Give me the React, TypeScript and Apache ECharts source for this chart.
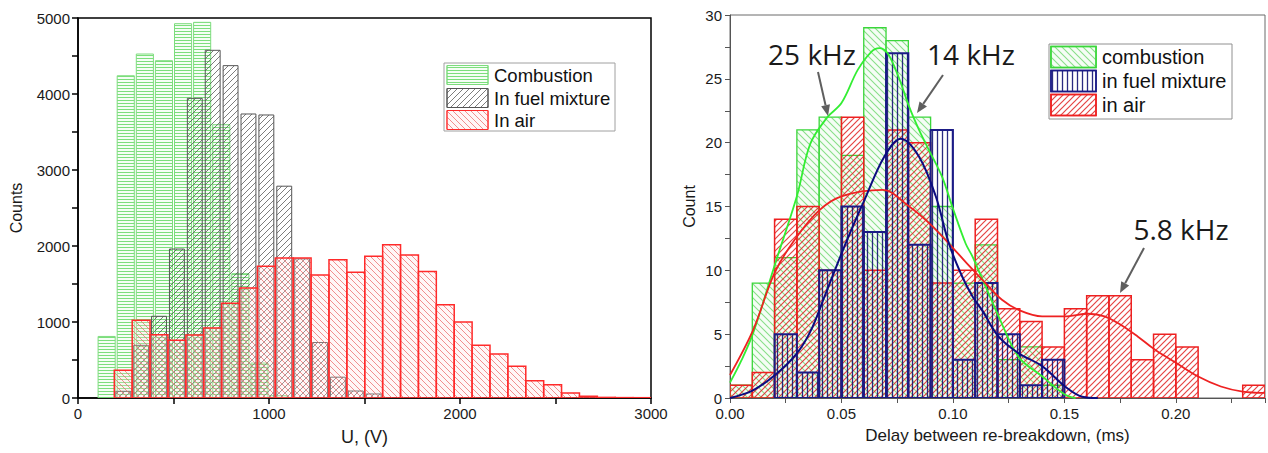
import React, { useEffect, useRef } from 'react';
import * as echarts from 'echarts';

// ---------- Left panel: U, (V) histogram ----------
const combustionStart = 100;
const combustionWidth = 100;
const combustionCounts = [810, 4240, 4526, 4438, 4925, 4943, 3596, 1636, 460, 30];

const fuelAirStart = 190;
const fuelAirWidth = 93.67;
const fuelCounts = [88, 693, 1075, 1960, 3943, 4575, 4373, 3737, 3724, 2787, 1830, 730, 274, 92, 53];
const airCounts = [364, 1022, 833, 759, 829, 921, 1246, 1447, 1732, 1842, 1842, 1618, 1820, 1654, 1864, 2017,
  1882, 1664, 1228, 1000, 693, 579, 417, 228, 175, 66, 22, 8, 5, 4];

const leftXTicks = { min: 0, max: 3000, interval: 500, labelEvery: 1000 };
const leftYTicks = { min: 0, max: 5000, interval: 500, labelEvery: 1000 };

// ---------- Right panel: delay histogram ----------
const delayStart = 0;
const delayWidth = 0.01;
const combustionDelay = [1, 9, 11, 21, 22, 19, 29, 28, 22, 15, 9, 12, 3, 4, 1];
const fuelDelay = [0, 0, 5, 2, 10, 15, 13, 27, 12, 21, 3, 9, 5, 1, 3];
const airDelay = [1, 2, 14, 15, 10, 22, 10, 21, 20, 9, 10, 14, 7, 6, 4, 7, 8, 8, 3, 5, 4, 0, 0, 1];

const combustionFit = [
  [0, 1.2], [0.005, 2.9], [0.0104, 5.1], [0.0204, 10.6], [0.03, 15.8], [0.036, 19.9], [0.0437, 22],
  [0.05, 23.1], [0.0573, 25.7], [0.0633, 27.1], [0.067, 27.4], [0.0707, 27], [0.0755, 25.2],
  [0.0804, 22.8], [0.0848, 21], [0.0893, 19.4], [0.0952, 17.3], [0.0997, 15], [0.1057, 12.1],
  [0.109, 11], [0.1205, 6.4], [0.1295, 3.2], [0.14, 1.7], [0.15, 0.3], [0.155, 0],
];
const fuelFit = [
  [0, 0], [0.0103, 0.6], [0.0202, 1.8], [0.03, 3.5], [0.0363, 5.3], [0.0423, 7.9], [0.05, 11.3],
  [0.055, 13.4], [0.0603, 15.5], [0.0692, 18.9], [0.0766, 20.3], [0.0848, 18.9], [0.0923, 15.8],
  [0.0982, 12.1], [0.1042, 9.5], [0.109, 7.9], [0.113, 6.9], [0.1205, 4.8], [0.1295, 3.5],
  [0.14, 2.5], [0.1503, 0.9], [0.158, 0.1], [0.165, 0],
];
const airFit = [
  [0, 1.8], [0.0103, 5.3], [0.02, 9.8], [0.029, 12.4], [0.04, 14.7], [0.05, 15.8], [0.0685, 16.3],
  [0.0804, 15], [0.0893, 13.7], [0.0982, 12.1], [0.107, 10.4], [0.1146, 9], [0.122, 7.7],
  [0.1295, 6.9], [0.14, 6.4], [0.15, 6.4], [0.1607, 6.6], [0.168, 6.4], [0.1756, 5.7], [0.183, 4.8],
  [0.1905, 3.8], [0.1997, 2.8], [0.2098, 1.7], [0.2202, 0.9], [0.23, 0.5], [0.24, 0.4],
];

const rightXTicks = { min: 0, max: 0.24, interval: 0.025, labelEvery: 0.05 };
const rightYTicks = { min: 0, max: 30, interval: 2.5, labelEvery: 5 };

const leftLegend = ['Combustion', 'In fuel mixture', 'In air'];
const rightLegend = ['combustion', 'in fuel mixture', 'in air'];
const annotations = ['25 kHz', '14 kHz', '5.8 kHz'];

const PLOT_FONT = '"Liberation Sans", Arial, sans-serif';

function binData(start: number, width: number, counts: number[]) {
  return counts.map((c, i) => [start + i * width, start + (i + 1) * width, c]);
}

function makeHatch(kind: string, color: string, size: number, lw: number, bg?: string) {
  const c = document.createElement('canvas');
  c.width = size;
  c.height = size;
  const ctx = c.getContext('2d')!;
  if (bg) {
    ctx.fillStyle = bg;
    ctx.fillRect(0, 0, size, size);
  }
  ctx.strokeStyle = color;
  ctx.lineWidth = lw;
  ctx.beginPath();
  if (kind === 'h') {
    ctx.moveTo(0, Math.floor(size / 2) + 0.5);
    ctx.lineTo(size, Math.floor(size / 2) + 0.5);
  } else if (kind === 'v') {
    ctx.moveTo(Math.floor(size / 2) + 0.5, 0);
    ctx.lineTo(Math.floor(size / 2) + 0.5, size);
  } else if (kind === 'fwd') {
    ctx.moveTo(-1, size + 1); ctx.lineTo(size + 1, -1);
    ctx.moveTo(-2, 2); ctx.lineTo(2, -2);
    ctx.moveTo(size - 2, size + 2); ctx.lineTo(size + 2, size - 2);
  } else {
    ctx.moveTo(-1, -1); ctx.lineTo(size + 1, size + 1);
    ctx.moveTo(size - 2, -2); ctx.lineTo(size + 2, 2);
    ctx.moveTo(-2, size - 2); ctx.lineTo(2, size + 2);
  }
  ctx.stroke();
  return { image: c, repeat: 'repeat', imageWidth: size, imageHeight: size } as any;
}

function histSeries(name: string, data: number[][], axis: number, fill: any, stroke: string, lw: number, inset: number, z: number) {
  return {
    type: 'custom',
    name,
    xAxisIndex: axis,
    yAxisIndex: axis,
    z,
    clip: true,
    data,
    encode: { x: [0, 1], y: 2 },
    renderItem: (_p: any, api: any) => {
      const v = api.value(2);
      if (!v) return null;
      const a = api.coord([api.value(0), v]);
      const b = api.coord([api.value(1), 0]);
      return {
        type: 'rect',
        shape: { x: a[0] + inset, y: a[1], width: b[0] - a[0] - 2 * inset, height: b[1] - a[1] },
        style: { fill, stroke, lineWidth: lw },
      };
    },
  };
}

function isMultiple(v: number, step: number) {
  const r = v / step;
  return Math.abs(r - Math.round(r)) < 1e-6;
}

function valueAxis(t: any, grid: number, color: string, lw: number, tickLen: number, fmt: (v: number) => string, name: string, nameGap: number, nameSize: number) {
  return {
    type: 'value',
    gridIndex: grid,
    min: t.min,
    max: t.max,
    interval: t.interval,
    name,
    nameLocation: 'middle',
    nameGap,
    nameTextStyle: { fontSize: nameSize, color: '#1a1a1a', fontFamily: PLOT_FONT },
    axisLine: { show: true, onZero: false, lineStyle: { color, width: lw } },
    axisTick: { show: true, length: tickLen, lineStyle: { color, width: lw } },
    splitLine: { show: false },
    axisLabel: {
      fontSize: 15,
      color: '#1a1a1a',
      fontFamily: PLOT_FONT,
      margin: 8,
      showMaxLabel: true,
      showMinLabel: true,
      formatter: (v: number) => (isMultiple(v, t.labelEvery) ? fmt(v) : ''),
    },
  };
}

function arrow(x1: number, y1: number, x2: number, y2: number, color: string) {
  const dx = x2 - x1, dy = y2 - y1;
  const len = Math.sqrt(dx * dx + dy * dy);
  const ux = dx / len, uy = dy / len;
  const nx = -uy, ny = ux;
  const hl = 11, hw = 4.5;
  const bx = x2 - ux * hl, by = y2 - uy * hl;
  return [
    { type: 'line', z: 100, shape: { x1, y1, x2: bx, y2: by }, style: { stroke: color, lineWidth: 2 } },
    {
      type: 'polygon', z: 100,
      shape: { points: [[x2, y2], [bx + nx * hw, by + ny * hw], [bx - nx * hw, by - ny * hw]] },
      style: { fill: color },
    },
  ];
}

export default function App() {
  const ref = useRef<HTMLDivElement>(null);
  useEffect(() => {
    const chart = echarts.init(ref.current!, null, { renderer: 'svg' });

    const pGreenH = makeHatch('h', 'rgba(95,215,95,0.8)', 3, 1, 'rgba(215,250,215,0.25)');
    const pGrayF = makeHatch('fwd', 'rgba(70,70,70,0.7)', 6, 1);
    const pRedB = makeHatch('back', 'rgba(235,100,100,0.7)', 6, 1, 'rgba(255,225,225,0.25)');

    const pGreenB = makeHatch('back', 'rgba(110,215,110,0.8)', 7, 1.1, 'rgba(225,250,225,0.35)');
    const pBlueV = makeHatch('v', 'rgba(20,20,115,0.9)', 5, 1.3);
    const pRedF = makeHatch('fwd', 'rgba(225,35,35,0.85)', 6, 1.2);

    const leftStroke = { green: '#7ddc7d', gray: '#555555', red: '#ff2a2a' };
    const rightStroke = { green: '#3ad63a', blue: '#1b1b86', red: '#ee2020' };

    const graphic: any[] = [];
    // left legend
    graphic.push({ type: 'rect', z: 100, shape: { x: 444, y: 63, width: 171, height: 68 }, style: { fill: '#fff', stroke: '#a0a0a0', lineWidth: 1 } });
    const lFills = [pGreenH, pGrayF, pRedB];
    const lStrokes = [leftStroke.green, leftStroke.gray, leftStroke.red];
    const lRows = [75, 98, 120];
    leftLegend.forEach((t, i) => {
      graphic.push({ type: 'rect', z: 101, shape: { x: 447, y: lRows[i] - 9.5, width: 41, height: 19 }, style: { fill: '#fff', stroke: lStrokes[i], lineWidth: 1 } });
      graphic.push({ type: 'rect', z: 102, shape: { x: 447, y: lRows[i] - 9.5, width: 41, height: 19 }, style: { fill: lFills[i], stroke: lStrokes[i], lineWidth: 1 } });
      graphic.push({ type: 'text', z: 102, style: { text: t, x: 494, y: lRows[i], fill: '#111', font: '18.5px ' + PLOT_FONT, textAlign: 'left', textVerticalAlign: 'middle', verticalAlign: 'middle' } });
    });
    // right legend
    graphic.push({ type: 'rect', z: 100, shape: { x: 1049, y: 44, width: 183, height: 75 }, style: { fill: '#fff', stroke: '#909090', lineWidth: 1 } });
    const rFills = [pGreenB, pBlueV, pRedF];
    const rStrokes = [rightStroke.green, rightStroke.blue, rightStroke.red];
    const rRows = [57, 81, 105];
    rightLegend.forEach((t, i) => {
      graphic.push({ type: 'rect', z: 101, shape: { x: 1051, y: rRows[i] - 10.5, width: 45, height: 21 }, style: { fill: '#fff', stroke: rStrokes[i], lineWidth: 1.5 } });
      graphic.push({ type: 'rect', z: 102, shape: { x: 1051, y: rRows[i] - 10.5, width: 45, height: 21 }, style: { fill: rFills[i], stroke: rStrokes[i], lineWidth: 1.5 } });
      graphic.push({ type: 'text', z: 102, style: { text: t, x: 1102, y: rRows[i], fill: '#111', font: '20px ' + PLOT_FONT, textAlign: 'left', textVerticalAlign: 'middle', verticalAlign: 'middle' } });
    });
    // annotations
    const annPos = [[812, 54], [971, 54], [1181, 229]];
    annotations.forEach((t, i) => {
      graphic.push({ type: 'text', z: 103, style: { text: t, x: annPos[i][0], y: annPos[i][1], fill: '#1a1a1a', font: '28px "Open Sans", "Noto Sans", sans-serif', textAlign: 'center', textVerticalAlign: 'middle', verticalAlign: 'middle' } });
    });
    const arrowColor = '#5f5f5f';
    graphic.push(...arrow(818, 72, 828, 116, arrowColor));
    graphic.push(...arrow(943, 75, 917, 113, arrowColor));
    graphic.push(...arrow(1144, 248, 1120, 293, arrowColor));

    const option: any = {
      animation: false,
      backgroundColor: '#fff',
      textStyle: { fontFamily: PLOT_FONT },
      grid: [
        { left: 78, top: 18, width: 573, height: 380, show: true, borderColor: '#000', borderWidth: 1.5, backgroundColor: 'transparent' },
        { left: 730, top: 15, width: 536, height: 383, show: true, borderColor: '#6a6a6a', borderWidth: 1, backgroundColor: 'transparent' },
      ],
      xAxis: [
        valueAxis(leftXTicks, 0, '#000', 1.5, 6, (v) => String(Math.round(v)), 'U, (V)', 30, 18),
        valueAxis(rightXTicks, 1, '#555', 1, 5, (v) => v.toFixed(2), 'Delay between re-breakdown, (ms)', 29, 17),
      ],
      yAxis: [
        valueAxis(leftYTicks, 0, '#000', 1.5, 6, (v) => String(Math.round(v)), 'Counts', 54, 16),
        valueAxis(rightYTicks, 1, '#555', 1, 5, (v) => String(Math.round(v)), 'Count', 33, 16),
      ],
      series: [
        histSeries('Combustion', binData(combustionStart, combustionWidth, combustionCounts), 0, pGreenH, leftStroke.green, 1, 1, 2),
        histSeries('In fuel mixture', binData(fuelAirStart, fuelAirWidth, fuelCounts), 0, pGrayF, leftStroke.gray, 1, 1.5, 3),
        histSeries('In air', binData(fuelAirStart, fuelAirWidth, airCounts), 0, pRedB, leftStroke.red, 1.5, 0, 4),

        histSeries('combustion', binData(delayStart, delayWidth, combustionDelay), 1, pGreenB, rightStroke.green, 1.3, 0, 2),
        histSeries('in air', binData(delayStart, delayWidth, airDelay), 1, pRedF, rightStroke.red, 1.5, 0, 3),
        histSeries('in fuel mixture', binData(delayStart, delayWidth, fuelDelay), 1, pBlueV, rightStroke.blue, 2, 0, 4),

        { type: 'line', xAxisIndex: 1, yAxisIndex: 1, data: combustionFit, smooth: 0.35, symbol: 'none', z: 10, lineStyle: { color: '#33ee33', width: 1.8 } },
        { type: 'line', xAxisIndex: 1, yAxisIndex: 1, data: airFit, smooth: 0.35, symbol: 'none', z: 10, lineStyle: { color: '#ee2222', width: 1.8 } },
        { type: 'line', xAxisIndex: 1, yAxisIndex: 1, data: fuelFit, smooth: 0.35, symbol: 'none', z: 11, lineStyle: { color: '#0c0c80', width: 2 } },
      ],
      graphic,
    };
    chart.setOption(option);
    return () => chart.dispose();
  }, []);
  return <div ref={ref} style={{ position: 'absolute', left: 0, top: 0, width: 1268, height: 453, background: '#fff' }} />;
}
